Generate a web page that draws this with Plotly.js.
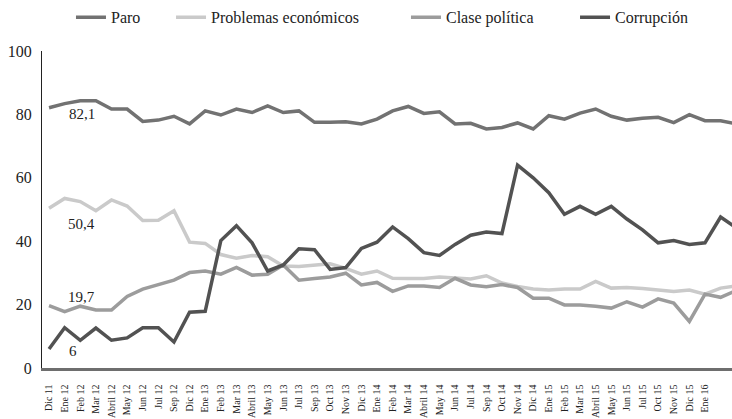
<!DOCTYPE html>
<html>
<head>
<meta charset="utf-8">
<script src="https://cdn.plot.ly/plotly-3.0.1.min.js"></script>
<style>
  html, body { margin: 0; padding: 0; background: #fff; }
  #chart { width: 732px; height: 419px; }
</style>
</head>
<body>
<div id="chart"></div>
<script>
// Categories (survey months); the last two points carry no visible tick label
const categories = ["Dic 11","Ene 12","Feb 12","Mar 12","Abril 12","May 12","Jun 12","Jul 12","Sep 12","Dic 12",
  "Ene 13","Feb 13","Mar 13","Abril 13","May 13","Jun 13","Jul 13","Sep 13","Oct 13","Nov 13",
  "Dic 13","Ene 14","Feb 14","Mar 14","Abril 14","May 14","Jun 14","Jul 14","Sep 14","Oct 14",
  "Nov 14","Dic 14","Ene 15","Feb 15","Mar 15","Abril 15","May 15","Jun 15","Jul 15","Oct 15",
  "Nov 15","Dic 15","Ene 16","Feb 16","Mar 16"];
const tickLabels = categories.slice(0, 43);

const paro = [82.1,83.4,84.3,84.3,81.7,81.7,77.8,78.2,79.4,77.0,
  81.1,79.8,81.7,80.6,82.7,80.6,81.1,77.5,77.5,77.7,
  77.0,78.5,81.1,82.5,80.3,80.8,77.0,77.2,75.4,75.9,
  77.3,75.4,79.6,78.5,80.4,81.7,79.4,78.2,78.8,79.1,
  77.4,79.9,78.0,78.0,77.0];
const problemas = [50.4,53.5,52.5,49.6,53.0,51.1,46.5,46.6,49.6,39.7,
  39.3,35.8,34.6,35.5,35.1,32.2,32.0,32.5,32.9,31.4,
  29.6,30.6,28.3,28.2,28.2,28.7,28.3,28.1,29.1,26.8,
  25.7,24.9,24.6,24.9,24.9,27.3,25.2,25.4,25.1,24.7,
  24.1,24.6,23.3,25.2,25.9];
const clase = [19.7,17.8,19.5,18.3,18.3,22.6,24.9,26.2,27.7,30.1,
  30.6,29.6,31.7,29.3,29.6,32.5,27.7,28.2,28.7,29.9,
  26.2,27.0,24.2,25.9,25.9,25.4,28.3,26.2,25.6,26.3,
  25.4,22.0,22.0,19.9,19.9,19.5,18.9,20.9,19.2,21.8,
  20.5,14.7,23.3,22.3,24.4];
const corrupcion = [6,12.7,8.75,12.6,8.75,9.5,12.7,12.7,8.2,17.6,
  17.9,40.2,44.9,39.5,30.6,32.5,37.6,37.3,31.1,31.7,
  37.7,39.7,44.5,40.8,36.4,35.5,39.0,41.9,42.9,42.4,
  64.0,60.0,55.3,48.5,51.0,48.5,51.0,47.0,43.6,39.5,
  40.2,39.0,39.5,47.6,44.2];

const seriesNames = ["Paro", "Problemas económicos", "Clase política", "Corrupción"];
const seriesData = [paro, problemas, clase, corrupcion];
const seriesColors = ["#727272", "#cacaca", "#9c9c9c", "#525252"];
const legendIds = ["legend", "legend2", "legend3", "legend4"];
const legendX = [0.042, 0.187, 0.5275, 0.7725];

const FONT = "Liberation Serif, Times New Roman, serif";
const legendFont = { family: FONT, size: 16, color: "#222" };

const traces = seriesData.map((vals, k) => ({
  type: "scatter",
  mode: "lines",
  name: seriesNames[k],
  legend: legendIds[k],
  x: categories,
  y: vals,
  line: { color: seriesColors[k], width: 3.5 },
  hoverinfo: "x+y+name"
}));

const fmt = v => String(v).replace(".", ",");
const annFont = { family: FONT, size: 15, color: "#222" };
const annotations = [
  { x: 2.1, y: 80.1, text: fmt(paro[0]) },
  { x: 2.1, y: 45.3, text: fmt(problemas[0]) },
  { x: 2.1, y: 22.3, text: fmt(clase[0]) },
  { x: 1.55, y: 5.4, text: fmt(corrupcion[0]) }
].map(a => Object.assign({
  xref: "x", yref: "y", showarrow: false,
  xanchor: "center", yanchor: "middle", font: annFont
}, a));

const layout = {
  width: 732,
  height: 419,
  margin: { l: 42, r: 0, t: 48, b: 51, pad: 0 },
  paper_bgcolor: "#fff",
  plot_bgcolor: "#fff",
  font: { family: FONT, size: 15, color: "#222" },
  showlegend: true,
  xaxis: {
    type: "category",
    categoryorder: "array",
    categoryarray: categories,
    range: [-0.45, 43.73],
    tickmode: "array",
    tickvals: tickLabels,
    ticktext: tickLabels,
    tickangle: -90,
    tickfont: { family: FONT, size: 10, color: "#222" },
    showgrid: false,
    zeroline: false,
    showline: true,
    linecolor: "#6e6e6e",
    linewidth: 2.5,
    ticks: "",
    ticklabelstandoff: 10,
    fixedrange: true
  },
  yaxis: {
    range: [0, 100],
    tickvals: [0, 20, 40, 60, 80, 100],
    tickfont: { family: FONT, size: 16, color: "#222" },
    showgrid: false,
    zeroline: false,
    showline: true,
    linecolor: "#222",
    linewidth: 1,
    ticks: "",
    ticklabelstandoff: 6,
    fixedrange: true
  },
  annotations: annotations
};

legendIds.forEach((id, k) => {
  layout[id] = {
    orientation: "h",
    x: legendX[k], xanchor: "left",
    y: 1.16, yanchor: "top",
    font: legendFont,
    bgcolor: "rgba(0,0,0,0)",
    borderwidth: 0
  };
});

Plotly.newPlot("chart", traces, layout, { displayModeBar: false, staticPlot: true });
</script>
</body>
</html>
